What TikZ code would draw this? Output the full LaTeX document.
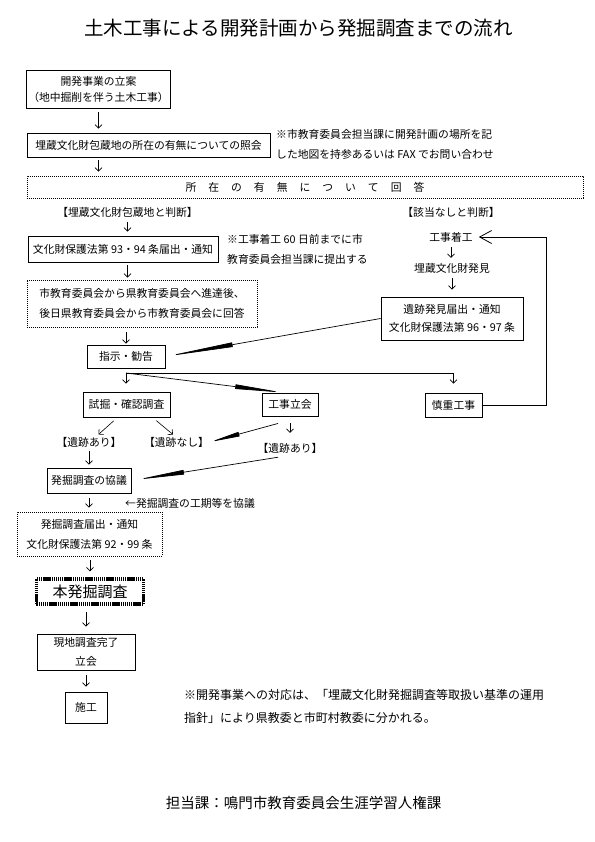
\documentclass[tikz,border=0pt]{standalone}
\usepackage{fontspec}
\setmainfont{Noto Sans CJK JP}
\usetikzlibrary{arrows.meta}
\newcommand\txt{\fontsize{10.8bp}{14bp}\selectfont}
\newcommand\txtw{\fontsize{10.8bp}{20bp}\selectfont}
\newcommand\ansgap{\hspace{12bp}}

\begin{document}
\begin{tikzpicture}[x=1bp, y=-1bp,
    box/.style={draw, line width=0.9bp, inner sep=2bp, align=center, font=\txt},
    dbox/.style={box, dash pattern=on 1bp off 1bp},
    lbl/.style={inner sep=1bp, font=\txt},
    note/.style={lbl, align=left, anchor=west, font=\txtw},
    arr/.style={-{Straight Barb[length=3.5bp,width=7bp]}, line width=0.6bp, shorten <=4bp, shorten >=4bp},
    wedge/.style={-{Triangle[length=#1,width=4.5bp]}, line width=0.7bp},
    wedge/.default=50bp,
    back/.style={-{Straight Barb[length=12bp,width=13bp]}, line width=0.8bp},
]
\useasboundingbox (0,0) rectangle (595,842);

% 表題
\node[lbl, font=\fontsize{19.5bp}{22bp}\selectfont] (title) at (298.5, 28) {土木工事による開発計画から発掘調査までの流れ};

% 照会と回答
\node[box, minimum width=143bp, minimum height=38bp, font=\fontsize{10.8bp}{16bp}\selectfont] (plan) at (98.5, 89) {開発事業の立案\\（地中掘削を伴う土木工事）};
\node[box, minimum width=243bp, minimum height=24bp] (query) at (148.5, 145) {埋蔵文化財包蔵地の所在の有無についての照会};
\node[note] (notefax) at (275, 144) {※市教育委員会担当課に開発計画の場所を記\\した地図を持参あるいは FAX でお問い合わせ};
\node[dbox, minimum width=556bp, minimum height=22bp] (answer) at (305, 187) {所\ansgap 在\ansgap の\ansgap 有\ansgap 無\ansgap に\ansgap つ\ansgap い\ansgap て\ansgap 回\ansgap 答};

% 包蔵地と判断
\node[lbl] (judgeyes) at (127.5, 212) {【埋蔵文化財包蔵地と判断】};
\node[box, minimum width=190bp, minimum height=26bp] (notice93) at (123, 249) {文化財保護法第 93・94 条届出・通知};
\node[note] (note60) at (226, 249.5) {※工事着工 60 日前までに市\\教育委員会担当課に提出する};
\node[dbox, minimum width=230bp, minimum height=47bp, font=\txtw] (relay) at (142, 303.5) {市教育委員会から県教育委員会へ進達後、\\後日県教育委員会から市教育委員会に回答};
\node[box, minimum width=78bp, minimum height=23bp] (advice) at (126, 356.5) {指示・勧告};

% 該当なしと判断
\node[lbl] (judgeno) at (451, 212) {【該当なしと判断】};
\node[lbl] (start) at (451, 237) {工事着工};
\node[lbl] (find) at (452, 268) {埋蔵文化財発見};
\node[box, minimum width=142bp, minimum height=43bp, font=\fontsize{10.8bp}{18bp}\selectfont] (report) at (452, 318.5) {遺跡発見届出・通知\\文化財保護法第 96・97 条};

% 調査の種類
\coordinate (split) at (126, 373);
\node[box, minimum width=87bp, minimum height=25bp] (trial) at (126.5, 404.5) {試掘・確認調査};
\node[box, minimum width=56bp, minimum height=23bp] (attend) at (290, 404.5) {工事立会};
\node[box, minimum width=57bp, minimum height=24bp] (careful) at (453.5, 405) {慎重工事};
\node[lbl] (foundA) at (89, 442) {【遺跡あり】};
\node[lbl] (none) at (176.5, 442) {【遺跡なし】};
\node[lbl] (foundB) at (290, 448) {【遺跡あり】};

% 本調査から施工まで
\node[box, minimum width=84bp, minimum height=25bp] (consult) at (89, 480.5) {発掘調査の協議};
\node[lbl, anchor=west] (noteterm) at (124, 503) {←発掘調査の工期等を協議};
\node[dbox, minimum width=145bp, minimum height=44bp, font=\txtw] (notice92) at (89.5, 534) {発掘調査届出・通知\\文化財保護法第 92・99 条};
\node[box, line width=3.5bp, dash pattern=on 1.4bp off 0.7bp, minimum width=107bp, minimum height=25bp, font=\fontsize{15bp}{18bp}\selectfont] (excav) at (90, 591.5) {本発掘調査};
\node[box, minimum width=98bp, minimum height=36bp, font=\fontsize{10.8bp}{19bp}\selectfont] (finish) at (86, 652) {現地調査完了\\立会};
\node[box, minimum width=42bp, minimum height=31bp] (build) at (86, 707.5) {施工};
\node[note, font=\fontsize{12bp}{23bp}\selectfont] (noteguide) at (183, 706) {※開発事業への対応は、「埋蔵文化財発掘調査等取扱い基準の運用\\指針」により県教委と市町村教委に分かれる。};

% 担当課
\node[lbl, font=\fontsize{14.5bp}{17bp}\selectfont] (footer) at (303.5, 803) {担当課：鳴門市教育委員会生涯学習人権課};

% 縦の矢印
\draw[arr] (plan.south) -- (plan.south |- query.north);
\draw[arr, shorten <=3bp] (plan.south |- query.south) -- (plan.south |- answer.north);
\draw[arr] (judgeyes.south) -- (judgeyes.south |- notice93.north);
\draw[arr, shorten <=3bp, shorten >=2bp] (judgeyes.south |- notice93.south) -- (judgeyes.south |- relay.north);
\draw[arr, shorten <=5bp, shorten >=1bp] (advice.north |- relay.south) -- (advice.north);
\draw[arr] (start.south) -- (start.south |- find.north);
\draw[arr, shorten >=7bp] (find.south) -- (find.south |- report.north);
\draw[arr, shorten <=3bp, shorten >=3bp] (foundA.south) -- (foundA.south |- consult.north);
\draw[arr, shorten <=5bp] (consult.south) -- (consult.south |- notice92.north);
\draw[arr, shorten >=6bp] (notice92.south -| excav.north) -- (excav.north);
\draw[arr, shorten <=6bp, shorten >=7bp] (finish.north |- excav.south) -- (finish.north);
\draw[arr, shorten <=5bp, shorten >=5bp] (finish.south) -- (build.north);

% 分岐
\draw[arr, shorten <=0bp, shorten >=9bp] (split) -| (careful.north);
\draw[arr, shorten <=0bp, shorten >=8bp] (split) -- (split |- trial.north);
\draw[arr, shorten <=5bp, shorten >=2bp] ([xshift=-9bp]trial.south) -- ([xshift=8bp]foundA.north);
\draw[arr, shorten <=5bp, shorten >=2bp] ([xshift=26bp]trial.south) -- ([xshift=-2bp]none.north);
\draw[arr, shorten <=7bp, shorten >=9bp] (attend.south) -- (foundB.north);

% 太い矢印
\draw[wedge=68bp] (report.west) -- (advice.east);
\draw[wedge=48bp] (split) -- ([xshift=-7bp]attend.north);
\draw[wedge=30bp] ([xshift=-12bp,yshift=-7bp]attend.south) -- (none.east);
\draw[wedge=48bp, shorten >=5bp] ([xshift=-12bp,yshift=-3bp]foundB.south) -- (consult.east);

% 慎重工事から工事着工へ
\draw[back, shorten >=5bp] (careful.east) -- ++(64,0) |- (start.east);

\end{tikzpicture}
\end{document}
